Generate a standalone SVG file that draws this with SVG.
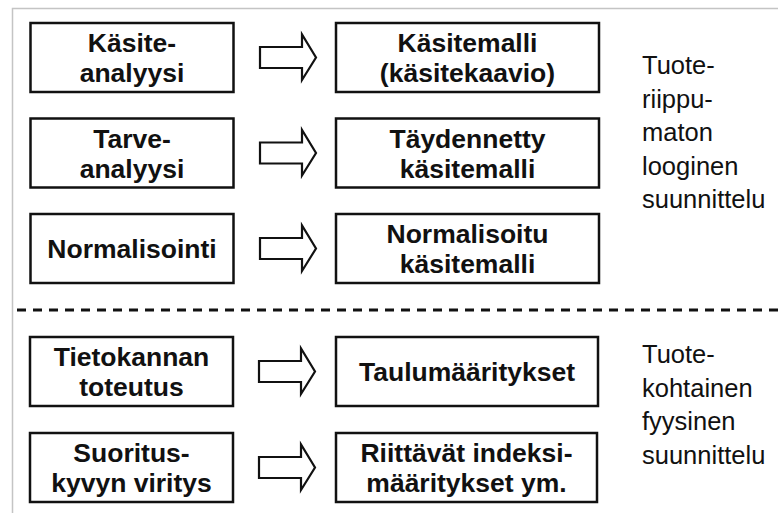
<svg xmlns="http://www.w3.org/2000/svg" width="778" height="513" viewBox="0 0 778 513">
<style>
.box{fill:#fff;stroke:#111;stroke-width:2.5}
.bt{font-family:"Liberation Sans",Arial,sans-serif;font-weight:bold;font-size:26.5px;fill:#111;text-anchor:middle}
.rt{font-family:"Liberation Sans",Arial,sans-serif;font-size:25.5px;fill:#111}
.arr{fill:#fff;stroke:#111;stroke-width:2.2;stroke-linejoin:miter}
.frame{fill:none;stroke:#c4c4c4;stroke-width:1.5}
.sep{stroke:#111;stroke-width:3;stroke-dasharray:9 7}
</style>
<rect width="778" height="513" fill="#fff"/>
<path class="frame" d="M12.5,513 L12.5,8.5 L778,8.5"/>
<line class="sep" x1="17" y1="310" x2="778" y2="310"/>

<g id="n1"><rect class="box" x="30.5" y="23" width="203" height="69"/><text class="bt" x="132" y="52">Käsite-</text><text class="bt" x="132" y="82">analyysi</text></g>
<g id="n2"><rect class="box" x="30.5" y="118.5" width="203" height="69"/><text class="bt" x="132" y="147.5">Tarve-</text><text class="bt" x="132" y="177.5">analyysi</text></g>
<g id="n3"><rect class="box" x="30.5" y="214" width="203" height="69"/><text class="bt" x="132" y="258">Normalisointi</text></g>
<g id="n4"><rect class="box" x="30" y="337" width="203" height="69"/><text class="bt" x="131.5" y="366">Tietokannan</text><text class="bt" x="131.5" y="396">toteutus</text></g>
<g id="n5"><rect class="box" x="30" y="433" width="203" height="69"/><text class="bt" x="131.5" y="462">Suoritus-</text><text class="bt" x="131.5" y="492">kyvyn viritys</text></g>

<g id="m1"><rect class="box" x="336" y="23" width="263" height="69"/><text class="bt" x="467.5" y="52">Käsitemalli</text><text class="bt" x="467.5" y="82">(käsitekaavio)</text></g>
<g id="m2"><rect class="box" x="336" y="118.5" width="263" height="69"/><text class="bt" x="467.5" y="147.5">Täydennetty</text><text class="bt" x="467.5" y="177.5">käsitemalli</text></g>
<g id="m3"><rect class="box" x="336" y="214" width="263" height="69"/><text class="bt" x="467.5" y="243">Normalisoitu</text><text class="bt" x="467.5" y="273">käsitemalli</text></g>
<g id="m4"><rect class="box" x="336" y="337" width="262" height="69"/><text class="bt" x="467" y="380.5">Taulumääritykset</text></g>
<g id="m5"><rect class="box" x="336" y="433" width="261" height="69"/><text class="bt" x="466.5" y="462">Riittävät indeksi-</text><text class="bt" x="466.5" y="492">määritykset ym.</text></g>

<g id="connectors">
<path class="arr" d="M260,47 L302,47 L302,34.5 L316,57.5 L302,80 L302,68 L260,68 Z"/>
<path class="arr" d="M260,142.5 L302,142.5 L302,130 L316,153 L302,175.5 L302,163.5 L260,163.5 Z"/>
<path class="arr" d="M260,238 L302,238 L302,225.5 L316,248.5 L302,271 L302,259 L260,259 Z"/>
<path class="arr" d="M259,361 L301,361 L301,348.5 L315,371.5 L301,394 L301,382 L259,382 Z"/>
<path class="arr" d="M259,457 L301,457 L301,444.5 L315,467.5 L301,490 L301,478 L259,478 Z"/>
</g>

<g id="label-top">
<text class="rt" x="642" y="74">Tuote-</text>
<text class="rt" x="642" y="107.5">riippu-</text>
<text class="rt" x="642" y="141">maton</text>
<text class="rt" x="642" y="174.5">looginen</text>
<text class="rt" x="642" y="208">suunnittelu</text>
</g>
<g id="label-bottom">
<text class="rt" x="642" y="363">Tuote-</text>
<text class="rt" x="642" y="396.5">kohtainen</text>
<text class="rt" x="642" y="430">fyysinen</text>
<text class="rt" x="642" y="463.5">suunnittelu</text>
</g>
</svg>
